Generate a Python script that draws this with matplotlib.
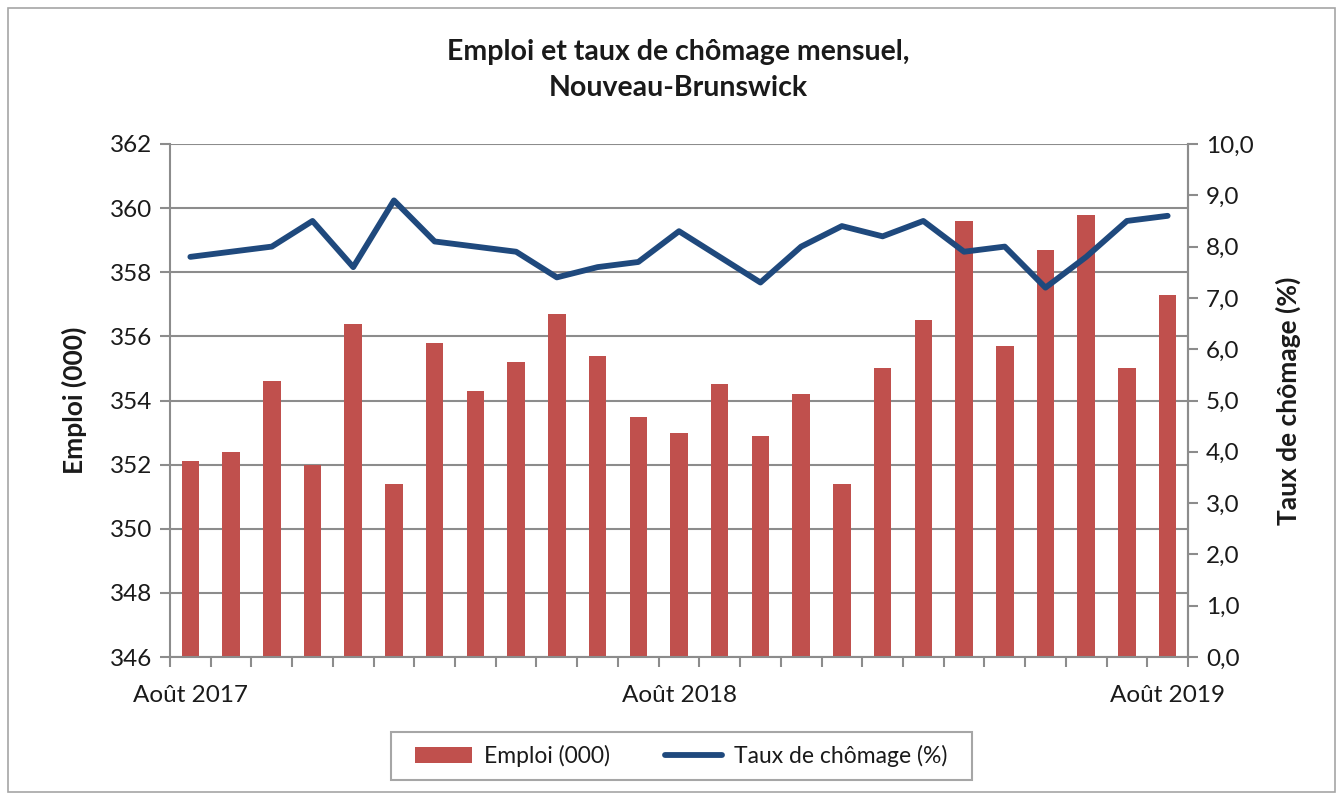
import matplotlib
matplotlib.use("Agg")
import matplotlib.pyplot as plt
from matplotlib.ticker import FixedLocator, FuncFormatter
from matplotlib.patches import Rectangle

plt.rcParams['font.family'] = ['Lato', 'DejaVu Sans']

months = ["Août 2017", "Sep 2017", "Oct 2017", "Nov 2017", "Déc 2017", "Jan 2018",
          "Fév 2018", "Mar 2018", "Avr 2018", "Mai 2018", "Juin 2018", "Juil 2018",
          "Août 2018", "Sep 2018", "Oct 2018", "Nov 2018", "Déc 2018", "Jan 2019",
          "Fév 2019", "Mar 2019", "Avr 2019", "Mai 2019", "Juin 2019", "Juil 2019",
          "Août 2019"]
emploi = [352.1, 352.4, 354.6, 352.0, 356.4, 351.4, 355.8, 354.3, 355.2, 356.7,
          355.4, 353.5, 353.0, 354.5, 352.9, 354.2, 351.4, 355.0, 356.5, 359.6,
          355.7, 358.7, 359.8, 355.0, 357.3]
chomage = [7.8, 7.9, 8.0, 8.5, 7.6, 8.9, 8.1, 8.0, 7.9, 7.4, 7.6, 7.7, 8.3, 7.8,
           7.3, 8.0, 8.4, 8.2, 8.5, 7.9, 8.0, 7.2, 7.8, 8.5, 8.6]
shown_labels = ["Août 2017", "Août 2018", "Août 2019"]

bar_color = "#C0504D"
line_color = "#1F497D"
grid_color = "#8C8C8C"
text_color = "#1A1A1A"

fig = plt.figure(figsize=(13.43, 7.94), dpi=100)
fig.patches.append(Rectangle((8/1343, 2/794), 1327/1343, 784/794, transform=fig.transFigure,
                             fill=False, edgecolor="#A6A6A6", linewidth=1.2))

ax = fig.add_axes([170/1343, 1-657/794, 1018/1343, 513/794])
x = list(range(len(months)))
ax.bar(x, emploi, width=0.43, color=bar_color, zorder=2, label="Emploi (000)")
ax.set_ylim(346, 362)
ax.set_xlim(-0.5, len(months) - 0.5)
ax.set_yticks(range(346, 363, 2))
ax.yaxis.grid(True, color=grid_color, linewidth=1.5, zorder=0)
ax.set_axisbelow(True)

ax.xaxis.set_major_locator(FixedLocator([i - 0.5 for i in range(len(months) + 1)]))
ax.set_xticklabels([])
ax.xaxis.set_minor_locator(FixedLocator([months.index(m) for m in shown_labels]))
ax.xaxis.set_minor_formatter(FuncFormatter(lambda v, p: months[int(round(v))]))
ax.tick_params(axis='x', which='major', length=7, width=1.5, color=grid_color, direction='out')
ax.tick_params(axis='x', which='minor', length=0, labelsize=17.5, pad=20, labelcolor=text_color)
ax.tick_params(axis='y', length=7, width=1.5, color=grid_color, labelsize=17.5, pad=6, labelcolor=text_color)

for side in ["left", "bottom", "right"]:
    ax.spines[side].set_color(grid_color)
    ax.spines[side].set_linewidth(1.5)
ax.spines["top"].set_visible(False)

ax2 = ax.twinx()
ax2.plot(x, chomage, color=line_color, linewidth=4.2, solid_capstyle='round',
         solid_joinstyle='round', zorder=3, label="Taux de chômage (%)")
ax2.set_ylim(0, 10)
ax2.set_yticks([i for i in range(0, 11)])
ax2.yaxis.set_major_formatter(FuncFormatter(lambda v, p: f"{v:.1f}".replace(".", ",")))
ax2.tick_params(axis='y', length=7, width=1.5, color=grid_color, labelsize=17.5, pad=6, labelcolor=text_color)
for side in ["left", "bottom", "right", "top"]:
    ax2.spines[side].set_visible(False)
ax2.spines["right"].set_visible(True)
ax2.spines["right"].set_color(grid_color)
ax2.spines["right"].set_linewidth(1.5)

ax.set_ylabel("Emploi (000)", fontsize=19, fontweight='bold', labelpad=16, color=text_color)
ax2.set_ylabel("Taux de chômage (%)", fontsize=19, fontweight='bold', labelpad=16, color=text_color)

fig.text(678/1343, 1-52/794, "Emploi et taux de chômage mensuel,", ha='center', va='center',
         fontsize=20.5, fontweight='bold', color=text_color)
fig.text(678/1343, 1-88/794, "Nouveau-Brunswick", ha='center', va='center',
         fontsize=20.5, fontweight='bold', color=text_color)

# legend frame drawn separately to match the reference box
fig.patches.append(Rectangle((391/1343, 1-780/794), 581/1343, 48/794, transform=fig.transFigure,
                             fill=False, edgecolor="#A6A6A6", linewidth=1.5))
h1, l1 = ax.get_legend_handles_labels()
h2, l2 = ax2.get_legend_handles_labels()
leg = fig.legend(h1 + h2, l1 + l2, loc='center', bbox_to_anchor=(681/1343, 1-756/794),
                 ncol=2, fontsize=16.5, frameon=False, handlelength=2.5,
                 handletextpad=0.5, columnspacing=2.4, borderpad=0.6)
for t in leg.get_texts():
    t.set_color(text_color)

fig.savefig("out.png", dpi=100)
